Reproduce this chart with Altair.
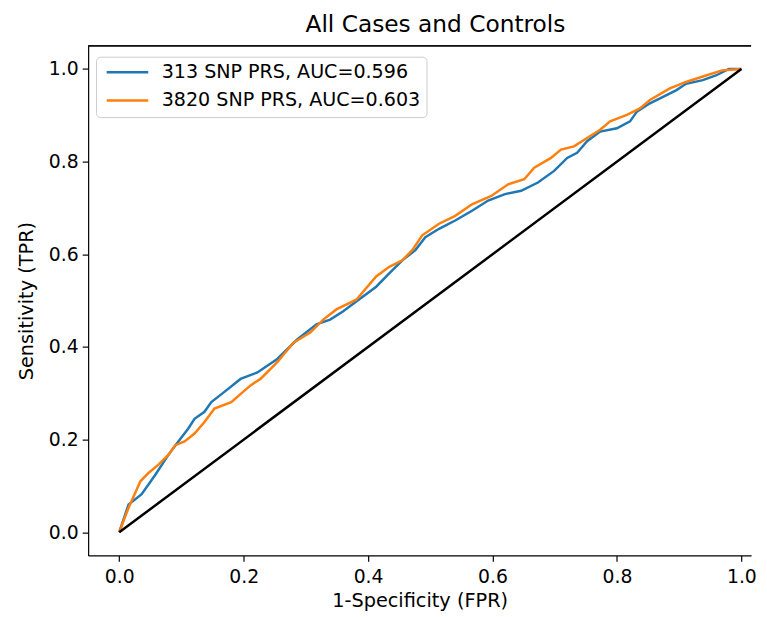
import altair as alt
import pandas as pd

series_names = ["313 SNP PRS, AUC=0.596", "3820 SNP PRS, AUC=0.603"]
series_colors = ["#1f77b4", "#ff7f0e"]

blue_x = [0, 0.015, 0.036, 0.058, 0.079, 0.095, 0.111, 0.121, 0.137, 0.148,
          0.169, 0.195, 0.222, 0.254, 0.286, 0.317, 0.339, 0.36, 0.381, 0.413,
          0.434, 0.455, 0.476, 0.492, 0.514, 0.54, 0.567, 0.593, 0.62, 0.646,
          0.673, 0.699, 0.72, 0.736, 0.752, 0.773, 0.8, 0.821, 0.832, 0.853,
          0.874, 0.895, 0.911, 0.938, 0.959, 0.98, 1.0]
blue_y = [0, 0.06, 0.082, 0.124, 0.167, 0.196, 0.224, 0.245, 0.26, 0.281,
          0.303, 0.331, 0.345, 0.374, 0.416, 0.449, 0.459, 0.477, 0.498, 0.53,
          0.559, 0.587, 0.609, 0.637, 0.655, 0.673, 0.694, 0.716, 0.73, 0.737,
          0.755, 0.78, 0.808, 0.819, 0.844, 0.865, 0.872, 0.887, 0.908, 0.926,
          0.94, 0.954, 0.968, 0.976, 0.986, 1.0, 1.0]

orange_x = [0, 0.005, 0.015, 0.034, 0.047, 0.063, 0.079, 0.09, 0.105, 0.121,
            0.137, 0.153, 0.18, 0.211, 0.227, 0.254, 0.28, 0.307, 0.328, 0.349,
            0.381, 0.413, 0.434, 0.455, 0.471, 0.487, 0.514, 0.54, 0.567, 0.598,
            0.625, 0.651, 0.667, 0.694, 0.71, 0.731, 0.752, 0.773, 0.789, 0.816,
            0.837, 0.853, 0.885, 0.911, 0.943, 0.969, 1.0]
orange_y = [0, 0.018, 0.053, 0.11, 0.128, 0.146, 0.167, 0.188, 0.196, 0.213,
            0.238, 0.267, 0.281, 0.317, 0.331, 0.367, 0.409, 0.431, 0.459, 0.481,
            0.502, 0.552, 0.573, 0.587, 0.609, 0.641, 0.666, 0.683, 0.708, 0.726,
            0.751, 0.762, 0.787, 0.808, 0.826, 0.833, 0.851, 0.869, 0.887, 0.901,
            0.915, 0.933, 0.958, 0.972, 0.986, 0.997, 1.0]

diag_x = [0, 1]
diag_y = [0, 1]

tick_values = [0.0, 0.2, 0.4, 0.6, 0.8, 1.0]

rows = []
for i, (xs, ys) in enumerate([(blue_x, blue_y), (orange_x, orange_y)]):
    for k, (a, b) in enumerate(zip(xs, ys)):
        rows.append({"fpr": a, "tpr": b, "series": series_names[i], "k": k})
df = pd.DataFrame(rows)
diag_df = pd.DataFrame({"fpr": diag_x, "tpr": diag_y})

FONT = "DejaVu Sans"
W, H = 670, 515

xscale = alt.Scale(domain=[-0.05, 1.0156], nice=False, zero=False)
yscale = alt.Scale(domain=[-0.05, 1.05], nice=False, zero=False)

xaxis = alt.Axis(values=tick_values, format=".1f", title="1-Specificity (FPR)",
                 grid=False, tickSize=6, labelPadding=6, titlePadding=6)
yaxis = alt.Axis(values=tick_values, format=".1f", title="Sensitivity (TPR)",
                 grid=False, tickSize=6, labelPadding=4, titlePadding=12)

curves = alt.Chart(df).mark_line(strokeWidth=2.5).encode(
    x=alt.X("fpr:Q", scale=xscale, axis=xaxis),
    y=alt.Y("tpr:Q", scale=yscale, axis=yaxis),
    color=alt.Color("series:N",
                    scale=alt.Scale(domain=series_names, range=series_colors),
                    legend=alt.Legend(title=None, orient="none", legendX=8, legendY=11,
                                      symbolType="M-0.7,0H5.3", symbolSize=196,
                                      symbolStrokeWidth=2.5, labelFontSize=19.3,
                                      labelFont=FONT, labelColor="black",
                                      fillColor="white", strokeColor="#cccccc",
                                      cornerRadius=4, padding=6, rowPadding=8.5,
                                      labelOffset=41, labelLimit=600)),
    order="k:Q",
)

diag = alt.Chart(diag_df).mark_line(strokeWidth=2.5, color="black").encode(
    x=alt.X("fpr:Q", scale=xscale),
    y=alt.Y("tpr:Q", scale=yscale),
)

top_border = alt.Chart(diag_df).mark_rule(color="black", strokeWidth=1.2).encode(
    x=alt.value(0), x2=alt.value(W), y=alt.value(0)
)

chart = alt.layer(curves, diag, top_border).properties(
    width=W, height=H,
    title=alt.TitleParams("All Cases and Controls", fontSize=23.5, font=FONT,
                          fontWeight="normal", color="black", offset=9, dx=16,
                          anchor="middle"),
    autosize=alt.AutoSizeParams(type="none"),
    padding={"left": 81, "top": 35, "right": 8, "bottom": 58},
).configure_view(stroke=None).configure_axis(
    labelFont=FONT, titleFont=FONT, labelFontSize=19, titleFontSize=19.5,
    titleFontWeight="normal", labelColor="black", titleColor="black",
    domainColor="black", domainWidth=1.2, tickColor="black", tickWidth=1.2,
)

chart.save("out.html", embed_options={"renderer": "svg", "actions": False})
